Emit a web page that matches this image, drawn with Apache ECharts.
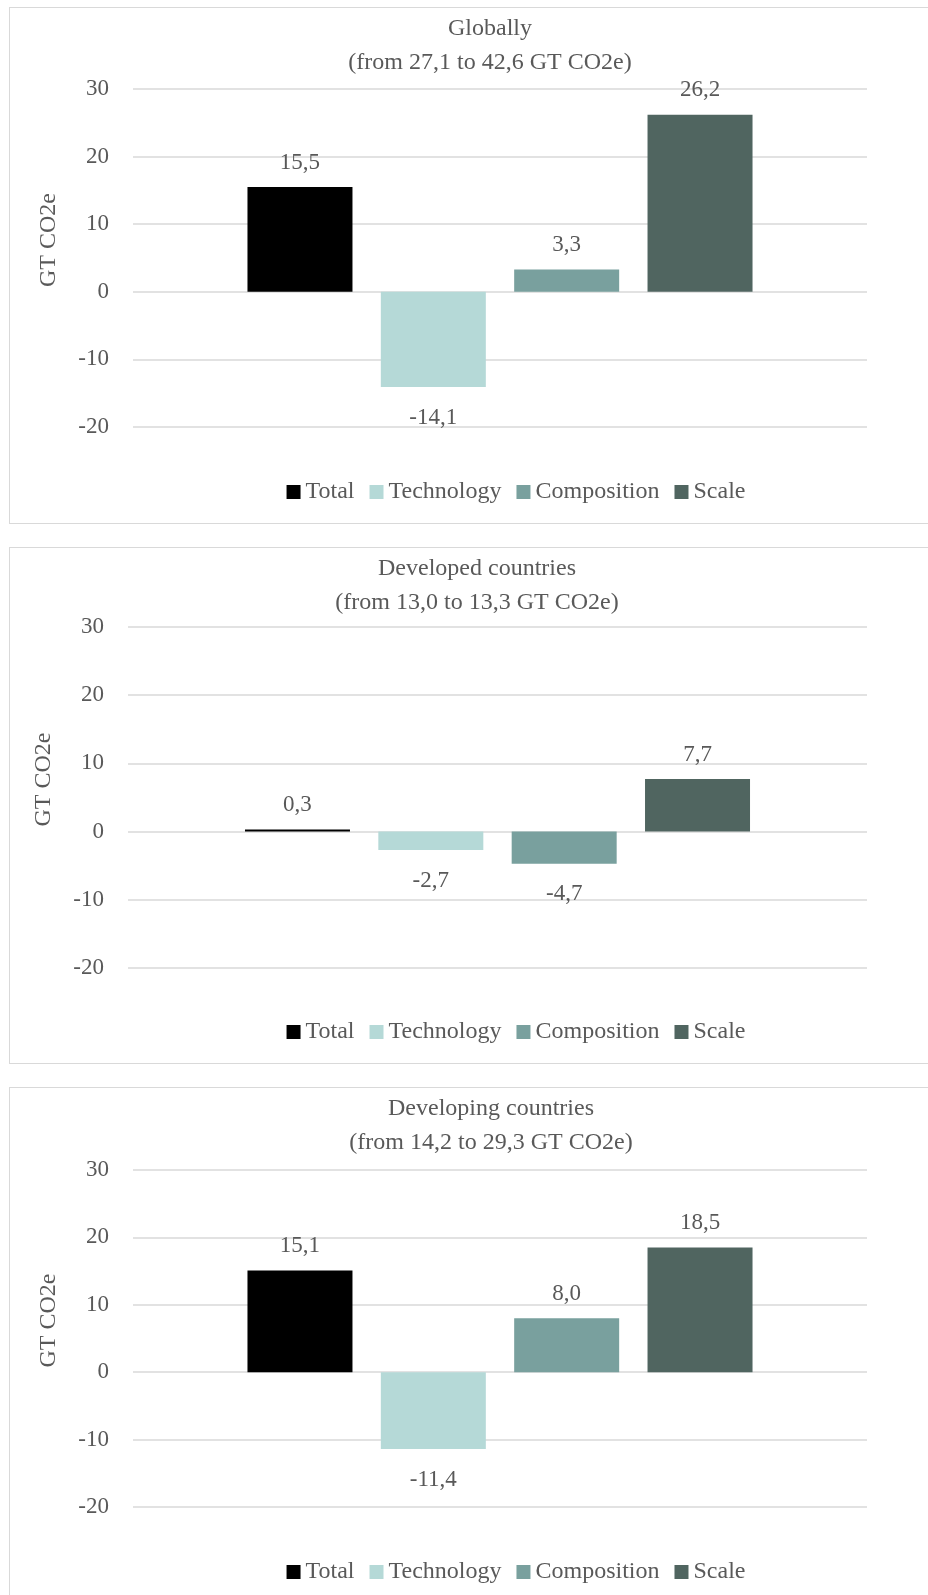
<!DOCTYPE html>
<html>
<head>
<meta charset="utf-8">
<script src="https://cdn.jsdelivr.net/npm/echarts@6/dist/echarts.min.js"></script>
<style>
body { margin: 0; background: #fff; width: 928px; height: 1595px; overflow: hidden; position: relative; }
.panel { position: absolute; left: 9px; width: 1014px; height: 517px; border: 1px solid #d9d9d9; box-sizing: border-box; background: #fff; }
.chart { width: 1012px; height: 515px; }
</style>
</head>
<body>
<!-- three panels, same layout -->
<div class="panel" style="top:7px"><div id="chart1" class="chart"></div></div>
<div class="panel" style="top:547px"><div id="chart2" class="chart"></div></div>
<div class="panel" style="top:1087px"><div id="chart3" class="chart"></div></div>
<script>
// data
var seriesNames = ['Total', 'Technology', 'Composition', 'Scale'];
var yTicks = [-20, -10, 0, 10, 20, 30];
var globalData = [15.5, -14.1, 3.3, 26.2];
var developedData = [0.3, -2.7, -4.7, 7.7];
var developingData = [15.1, -11.4, 8.0, 18.5];
var globalTitle = ['Globally', '(from 27,1 to 42,6 GT CO2e)'];
var developedTitle = ['Developed countries', '(from 13,0 to 13,3 GT CO2e)'];
var developingTitle = ['Developing countries', '(from 14,2 to 29,3 GT CO2e)'];
var unitName = 'GT CO2e';

var colors = ['#000000', '#b5d9d7', '#79a09e', '#506560'];
var textColor = '#595959';
var font = "'Liberation Serif', serif";

function fmt(v) {
	return v.toFixed(1).replace('.', ',');
}

function initChart(domId, titleLines, data, lay) {
	var myChart = echarts.init(document.getElementById(domId));

	var series = seriesNames.map(function (name, i) {
		return {
			name: name,
			type: 'bar',
			barWidth: 105,
			barGap: '27%',
			itemStyle: { color: colors[i] },
			label: {
				show: true,
				position: 'outside',
				distance: data[i] < 0 ? 19 : 13,
				fontSize: 23,
				fontFamily: font,
				color: textColor,
				formatter: function (p) { return fmt(p.value); }
			},
			data: [data[i]]
		};
	});

	var option = {
		animation: false,
		title: {
			text: titleLines.join('\n'),
			left: lay.titleX,
			top: 4,
			padding: 0,
			textAlign: 'center',
			textStyle: {
				fontSize: 24,
				fontWeight: 'normal',
				fontFamily: font,
				color: textColor,
				lineHeight: 34
			}
		},
		legend: {
			data: seriesNames,
			left: 'center',
			top: 467,
			icon: 'rect',
			itemWidth: 14,
			itemHeight: 14,
			itemGap: 15,
			textStyle: { fontSize: 24, fontFamily: font, color: textColor }
		},
		grid: {
			left: lay.gridLeft,
			width: lay.gridWidth,
			top: lay.gridTop,
			height: lay.gridHeight,
			containLabel: false
		},
		xAxis: [{
			type: 'category',
			data: [''],
			axisLine: { show: false },
			axisTick: { show: false },
			axisLabel: { show: false }
		}],
		yAxis: [{
			type: 'value',
			min: yTicks[0],
			max: yTicks[yTicks.length - 1],
			interval: yTicks[1] - yTicks[0],
			name: unitName,
			nameLocation: 'middle',
			nameRotate: 90,
			nameGap: 72,
			nameTextStyle: { fontSize: 24, fontFamily: font, color: textColor, padding: [0, 0, 0, 36] },
			axisLine: { show: false },
			axisTick: { show: false },
			axisLabel: { fontSize: 23, fontFamily: font, color: textColor, margin: 24 },
			splitLine: { lineStyle: { color: '#d9d9d9', width: 1.5 } }
		}],
		series: series
	};

	myChart.setOption(option);
}

initChart('chart1', globalTitle, globalData, { titleX: 480, gridLeft: 123, gridWidth: 734, gridTop: 81, gridHeight: 338 });
initChart('chart2', developedTitle, developedData, { titleX: 467, gridLeft: 118, gridWidth: 739, gridTop: 79, gridHeight: 341 });
initChart('chart3', developingTitle, developingData, { titleX: 481, gridLeft: 123, gridWidth: 734, gridTop: 82, gridHeight: 337 });
</script>
</body>
</html>
